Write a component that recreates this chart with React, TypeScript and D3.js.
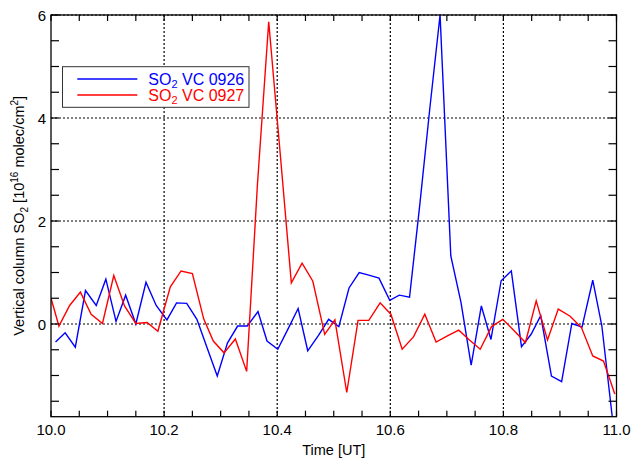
import React from "react";
import * as d3 from "d3";

const blueTime = [10.008,10.025,10.043,10.061,10.080,10.097,10.115,10.132,10.150,10.168,10.186,10.205,10.222,10.240,10.258,10.276,10.294,10.312,10.330,10.347,10.366,10.382,10.401,10.419,10.437,10.454,10.473,10.491,10.509,10.527,10.545,10.562,10.580,10.599,10.616,10.634,10.652,10.670,10.688,10.707,10.725,10.743,10.761,10.778,10.796,10.814,10.832,10.849,10.866,10.885,10.903,10.921,10.939,10.958,10.974,10.993];
const blueValue = [-0.35,-0.17,-0.45,0.65,0.36,0.87,0.05,0.56,0.00,0.81,0.36,0.08,0.41,0.40,0.09,-0.46,-1.01,-0.37,-0.04,-0.04,0.24,-0.33,-0.49,-0.10,0.30,-0.52,-0.22,0.09,-0.05,0.70,1.00,0.95,0.89,0.46,0.56,0.52,2.3,4.2,6.0,1.32,0.42,-0.80,0.35,-0.30,0.84,1.03,-0.44,-0.20,0.16,-1.01,-1.12,0.01,-0.06,0.85,-0.03,-1.85];

const redTime = [10.000,10.014,10.033,10.052,10.071,10.091,10.111,10.130,10.150,10.170,10.189,10.211,10.230,10.250,10.270,10.287,10.306,10.326,10.346,10.365,10.385,10.405,10.425,10.444,10.463,10.484,10.502,10.523,10.543,10.562,10.582,10.601,10.621,10.641,10.661,10.681,10.701,10.721,10.740,10.759,10.779,10.799,10.819,10.839,10.858,10.878,10.897,10.918,10.938,10.958,10.977,10.997];
const redValue = [0.50,-0.04,0.36,0.62,0.19,0.01,0.94,0.35,0.01,0.03,-0.14,0.72,1.03,0.98,0.10,-0.33,-0.56,-0.29,-0.92,2.7,5.87,3.35,0.80,1.18,0.83,-0.20,0.08,-1.33,0.07,0.07,0.41,0.19,-0.49,-0.25,0.19,-0.35,-0.23,-0.12,-0.31,-0.49,-0.05,0.09,-0.13,-0.36,0.45,-0.31,0.29,0.15,-0.07,-0.62,-0.72,-1.36];

const xTickLabels = [10.0, 10.2, 10.4, 10.6, 10.8, 11.0];
const yTickLabels = [0, 2, 4, 6];
const xGrid = [10.2, 10.4, 10.6, 10.8];
const yGrid = [0, 2, 4, 6];

const seriesNames = ["0926", "0927"];
const seriesColors = ["#0000ff", "#ff0000"];

export default function App() {
  const W = 633, H = 458;
  const L = 51, R = 616.5, T = 15, B = 416.7;
  const x = d3.scaleLinear().domain([10, 11]).range([L, R]);
  const y = d3.scaleLinear().domain([-1.8, 6]).range([B, T]);
  const line = d3.line<[number, number]>().x(d => x(d[0])).y(d => y(d[1]));
  const blue = line(blueTime.map((t, i) => [t, blueValue[i]]) as [number, number][]) || "";
  const red = line(redTime.map((t, i) => [t, redValue[i]]) as [number, number][]) || "";
  const xMinor = d3.range(0, 21).map(i => 10 + i * 0.05);
  const yMinor = d3.range(0, 16).map(i => -1.5 + i * 0.5);
  const font = "'Liberation Sans', Arial, Helvetica, sans-serif";

  return (
    <svg width={W} height={H} style={{ position: "absolute", left: 0, top: 0, background: "#fff" }} fontFamily={font}>
      <defs>
        <clipPath id="plotclip">
          <rect x={L} y={T} width={R - L} height={B - T} />
        </clipPath>
      </defs>
      {/* grid */}
      {xGrid.map(v => (
        <line key={"gx" + v} x1={x(v)} x2={x(v)} y1={T} y2={B} stroke="#000" strokeWidth={1.2} strokeDasharray="2,2" />
      ))}
      {yGrid.map(v => (
        <line key={"gy" + v} x1={L} x2={R} y1={y(v)} y2={y(v)} stroke="#000" strokeWidth={1.2} strokeDasharray="2,2" />
      ))}
      {/* series */}
      <g clipPath="url(#plotclip)">
        <path d={blue} fill="none" stroke={seriesColors[0]} strokeWidth={1.4} strokeLinejoin="miter" />
        <path d={red} fill="none" stroke={seriesColors[1]} strokeWidth={1.4} strokeLinejoin="miter" />
      </g>
      {/* frame */}
      <rect x={L} y={T} width={R - L} height={B - T} fill="none" stroke="#000" strokeWidth={1.3} />
      {/* ticks */}
      {xMinor.map((v, i) => (
        <g key={"xt" + i}>
          <line x1={x(v)} x2={x(v)} y1={B} y2={B - 6} stroke="#000" strokeWidth={1.2} />
          <line x1={x(v)} x2={x(v)} y1={T} y2={T + 6} stroke="#000" strokeWidth={1.2} />
        </g>
      ))}
      {yMinor.map((v, i) => (
        <g key={"yt" + i}>
          <line x1={L} x2={L + 8} y1={y(v)} y2={y(v)} stroke="#000" strokeWidth={1.2} />
          <line x1={R} x2={R - 8} y1={y(v)} y2={y(v)} stroke="#000" strokeWidth={1.2} />
        </g>
      ))}
      {/* tick labels */}
      {xTickLabels.map(v => (
        <text key={"xl" + v} x={x(v)} y={435} textAnchor="middle" fontSize={15} fill="#000">{v.toFixed(1)}</text>
      ))}
      {yTickLabels.map(v => (
        <text key={"yl" + v} x={46} y={y(v) + 5.5} textAnchor="end" fontSize={15} fill="#000">{String(v)}</text>
      ))}
      {/* axis titles */}
      <text x={(L + R) / 2} y={455} textAnchor="middle" fontSize={14.5} fill="#000">Time [UT]</text>
      <text transform={`translate(24,${(T + B) / 2}) rotate(-90)`} textAnchor="middle" fontSize={14.5} fill="#000">
        <tspan>Vertical column SO</tspan>
        <tspan fontSize={10} dy={4}>2</tspan>
        <tspan dy={-4}> [10</tspan>
        <tspan fontSize={10} dy={-6}>16</tspan>
        <tspan dy={6}> molec/cm</tspan>
        <tspan fontSize={10} dy={-6}>2</tspan>
        <tspan dy={6}>]</tspan>
      </text>
      {/* legend */}
      <rect x={62.5} y={66.7} width={186.5} height={40.6} fill="#fff" stroke="#333" strokeWidth={1} />
      {seriesNames.map((n, i) => (
        <g key={"lg" + n}>
          <line x1={77.3} x2={137.3} y1={79 + i * 16} y2={79 + i * 16} stroke={seriesColors[i]} strokeWidth={1.4} />
          <text x={148.3} y={84.5 + i * 16} fontSize={16} fill={seriesColors[i]}>
            <tspan>SO</tspan>
            <tspan fontSize={11} dy={3}>2</tspan>
            <tspan dy={-3}>{" VC " + n}</tspan>
          </text>
        </g>
      ))}
    </svg>
  );
}
